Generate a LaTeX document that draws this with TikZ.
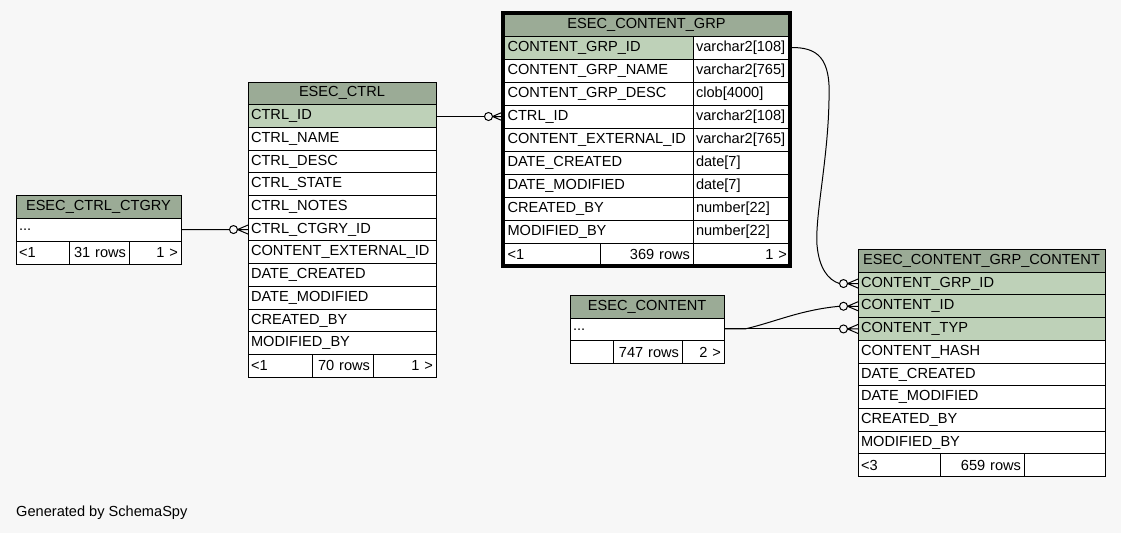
\documentclass[tikz,border=0pt]{standalone}
\usepackage{fontspec}
\setmainfont{Liberation Sans}
\usetikzlibrary{calc}
\definecolor{bgc}{HTML}{F7F7F7}
\definecolor{headc}{HTML}{9BAB96}
\definecolor{keyc}{HTML}{BED1B8}
\newcommand\tabfont{\fontsize{14.6}{16}\selectfont}
\begin{document}
\begin{tikzpicture}[x=1pt,y=-1pt,
  cell/.style={draw=black, line width=1pt, anchor=north west, outer sep=0pt,
    inner xsep=3pt, inner ysep=0pt, font=\tabfont, align=left},
  hd/.style={cell, fill=headc, align=center},
  rt/.style={align=right},
  conn/.style={draw=black, line width=1pt},
  crow/.pic={\draw[line width=1pt, fill=bgc] (-14.5,0) circle[radius=4];
    \draw[line width=1pt] (-10.5,0) -- (0,0) (-10.5,0) -- (0,-4.5) (-10.5,0) -- (0,4.5);}
]
\fill[bgc] (0,0) rectangle (1121,533);
\useasboundingbox (0,0) rectangle (1121,533);

% ESEC_CTRL_CTGRY
\node[hd, text width=159pt, minimum height=23pt] (ctgry-h) at (16,195) {ESEC\_CTRL\_CTGRY};
\node[cell, fill=white, text width=159pt, minimum height=23pt] (ctgry-1) at (16,218) {...};
\node[cell, fill=white, text width=47pt, minimum height=23pt] (ctgry-f1) at (16,241) {<1};
\node[cell, fill=white, rt, text width=54pt, minimum height=23pt] (ctgry-f2) at (69,241) {31 rows};
\node[cell, fill=white, rt, text width=46pt, minimum height=23pt] (ctgry-f3) at (129,241) {1 >};

% ESEC_CTRL
\node[hd, text width=182pt, minimum height=22.7pt] (ctrl-h) at (248,82) {ESEC\_CTRL};
\foreach \t/\f [count=\i] in {CTRL\_ID/keyc, CTRL\_NAME/white, CTRL\_DESC/white,
  CTRL\_STATE/white, CTRL\_NOTES/white, CTRL\_CTGRY\_ID/white,
  CONTENT\_EXTERNAL\_ID/white, DATE\_CREATED/white, DATE\_MODIFIED/white,
  CREATED\_BY/white, MODIFIED\_BY/white}
  \node[cell, fill=\f, text width=182pt, minimum height=22.7pt] (ctrl-\i) at (248,{82+22.7*\i}) {\t};
\node[cell, fill=white, text width=58pt, minimum height=22.7pt] (ctrl-f1) at (248,354.4) {<1};
\node[cell, fill=white, rt, text width=55pt, minimum height=22.7pt] (ctrl-f2) at (312,354.4) {70 rows};
\node[cell, fill=white, rt, text width=57pt, minimum height=22.7pt] (ctrl-f3) at (373,354.4) {1 >};

% ESEC_CONTENT_GRP
\node[hd, text width=281pt, minimum height=23pt] (grp-h) at (503,13) {ESEC\_CONTENT\_GRP};
\foreach \a/\b/\f [count=\i] in {CONTENT\_GRP\_ID/{varchar2[108]}/keyc,
  CONTENT\_GRP\_NAME/{varchar2[765]}/white, CONTENT\_GRP\_DESC/{clob[4000]}/white,
  CTRL\_ID/{varchar2[108]}/white, CONTENT\_EXTERNAL\_ID/{varchar2[765]}/white,
  DATE\_CREATED/{date[7]}/white, DATE\_MODIFIED/{date[7]}/white,
  CREATED\_BY/{number[22]}/white, MODIFIED\_BY/{number[22]}/white}
{
  \node[cell, fill=\f, inner xsep=4.5pt, text width=181pt, minimum height=23pt] (grp-\i) at (503,{13+23*\i}) {\a};
  \node[cell, fill=white, text width=91pt, minimum height=23pt] (grpt-\i) at (693,{13+23*\i}) {\b};
}
\node[cell, fill=white, inner xsep=4.5pt, text width=88pt, minimum height=23pt] (grp-f1) at (503,243) {<1};
\node[cell, fill=white, rt, text width=87pt, minimum height=23pt] (grp-f2) at (600,243) {369 rows};
\node[cell, fill=white, rt, text width=91pt, minimum height=23pt] (grp-f3) at (693,243) {1 >};
\draw[line width=3.5pt] (grp-h.north west) rectangle (grp-f3.south east);

% ESEC_CONTENT
\node[hd, text width=148pt, minimum height=22.7pt] (content-h) at (570,295.5) {ESEC\_CONTENT};
\node[cell, fill=white, text width=148pt, minimum height=22.7pt] (content-1) at (570,318.2) {...};
\node[cell, fill=white, text width=37pt, minimum height=22.7pt] (content-f1) at (570,340.9) {};
\node[cell, fill=white, rt, text width=63pt, minimum height=22.7pt] (content-f2) at (613,340.9) {747 rows};
\node[cell, fill=white, rt, text width=36pt, minimum height=22.7pt] (content-f3) at (682,340.9) {2 >};

% ESEC_CONTENT_GRP_CONTENT
\node[hd, text width=241pt, minimum height=22.7pt] (gc-h) at (858,249.5) {ESEC\_CONTENT\_GRP\_CONTENT};
\foreach \t/\f [count=\i] in {CONTENT\_GRP\_ID/keyc, CONTENT\_ID/keyc, CONTENT\_TYP/keyc,
  CONTENT\_HASH/white, DATE\_CREATED/white, DATE\_MODIFIED/white,
  CREATED\_BY/white, MODIFIED\_BY/white}
  \node[cell, fill=\f, text width=241pt, minimum height=22.7pt] (gc-\i) at (858,{249.5+22.7*\i}) {\t};
\node[cell, fill=white, text width=76pt, minimum height=22.7pt] (gc-f1) at (858,453.8) {<3};
\node[cell, fill=white, rt, text width=78pt, minimum height=22.7pt] (gc-f2) at (940,453.8) {659 rows};
\node[cell, fill=white, text width=75pt, minimum height=22.7pt] (gc-f3) at (1024,453.8) {};

% connectors
\draw[conn] (ctgry-1.east) -- ([xshift=-18.5pt]ctrl-6.west);
\pic at (ctrl-6.west) {crow};
\draw[conn] (ctrl-1.east |- grp-4.west) -- ([xshift=-18.5pt]grp-4.west);
\pic at (grp-4.west) {crow};
\draw[conn] (grpt-1.east) .. controls (818,47) and (831,58) .. (829,100)
  .. controls (828,160) and (815,215) .. (817,245)
  .. controls (819,268) and (828,280) .. ([xshift=-18.5pt]gc-1.west);
\pic at (gc-1.west) {crow};
\coordinate (cs) at (content-1.east |- gc-3.west);
\draw[conn] (cs) -- ++(21,0) .. controls (775,322) and (800,310) .. ([xshift=-18.5pt]gc-2.west);
\pic at (gc-2.west) {crow};
\draw[conn] (cs) -- ([xshift=-18.5pt]gc-3.west);
\pic at (gc-3.west) {crow};

\node[anchor=west, font=\tabfont, inner sep=0pt] (cap) at (16,513) {Generated by SchemaSpy};
\end{tikzpicture}
\end{document}
